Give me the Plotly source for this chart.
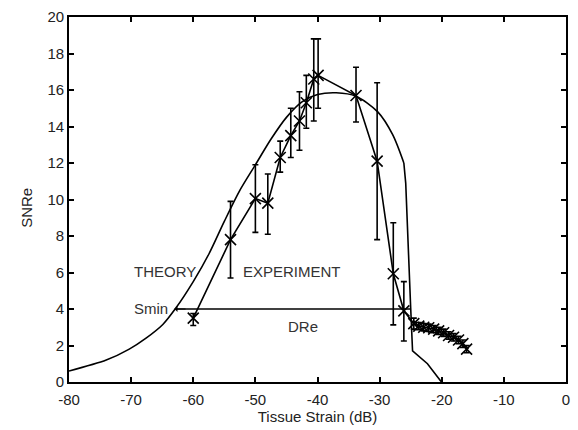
import plotly.graph_objects as go

# Theory curve
theory_x = [-80, -74, -70.3, -67.6, -64.9, -62.8, -60, -57.5, -55, -52.5, -50,
            -47.5, -45, -42.5, -40, -37, -33.8, -30.3, -27.9, -26.1, -25.8, -25.0,
            -24.7, -22.3, -20.05]
theory_y = [0.6, 1.2, 1.8, 2.4, 3.15, 4.05, 5.5, 7.0, 8.8, 10.5, 11.9,
            13.3, 14.5, 15.35, 15.75, 15.85, 15.66, 14.8, 13.55, 12.0, 10.9, 4.05,
            1.7, 1.0, 0.0]
smooth_end = 19  # index where the smooth part of the theory curve ends

# Experiment data with error bars
exp_x = [-60, -54, -50, -48, -46, -44.3, -42.9, -41.8, -40.6, -39.9, -33.8, -30.4,
         -27.8, -26.1, -24.5, -23.7, -22.9, -22.1, -21.3, -20.5, -19.7, -18.9,
         -18.1, -17.3, -16.6, -16.0]
exp_y = [3.5, 7.8, 10.05, 9.8, 12.3, 13.5, 14.3, 15.3, 16.6, 16.8, 15.7, 12.1,
         5.93, 3.9, 3.2, 3.06, 3.0, 2.97, 2.9, 2.8, 2.7, 2.55, 2.45, 2.3, 2.1, 1.8]
err_plus = [0.25, 2.1, 1.85, 1.6, 0.9, 1.5, 1.6, 1.5, 2.2, 2.0, 1.55, 4.3,
            2.8, 1.6, 0.3, 0.2, 0.2, 0.2, 0.2, 0.2, 0.2, 0.2, 0.2, 0.2, 0.2, 0.2]
err_minus = [0.4, 2.1, 1.85, 1.7, 0.8, 1.2, 1.6, 1.4, 2.3, 1.8, 1.45, 4.3,
             2.8, 1.65, 0.3, 0.2, 0.2, 0.2, 0.2, 0.2, 0.2, 0.2, 0.2, 0.2, 0.2, 0.2]

# Dynamic range line
dre_x = [-63, -25]
smin_level = 4

x_ticks = [-80, -70, -60, -50, -40, -30, -20, -10, 0]
x_ticktext = ["-80", "-70", "-60", "-50", "-40", "-30", "-20", "-10", "0"]
y_ticks = [0, 2, 4, 6, 8, 10, 12, 14, 16, 18, 20]

labels = [
    ("THEORY", -64.5, 6.07),
    ("EXPERIMENT", -44.1, 6.07),
    ("Smin", -66.8, 4.05),
    ("DRe", -42.3, 3.03),
]

font = "Liberation Sans, Arial, sans-serif"
FS = 15

fig = go.Figure()
fig.add_trace(go.Scatter(x=theory_x[:smooth_end + 1], y=theory_y[:smooth_end + 1],
                         mode="lines", line=dict(color="black", width=1.6,
                                                 shape="spline", smoothing=0.8),
                         showlegend=False))
fig.add_trace(go.Scatter(x=theory_x[smooth_end:], y=theory_y[smooth_end:],
                         mode="lines", line=dict(color="black", width=1.6),
                         showlegend=False))
fig.add_trace(go.Scatter(
    x=exp_x, y=exp_y, mode="lines+markers",
    line=dict(color="black", width=1.6),
    marker=dict(symbol="x-thin-open", size=11, color="black",
                line=dict(color="black", width=1.6)),
    error_y=dict(type="data", symmetric=False, array=err_plus, arrayminus=err_minus,
                 color="black", thickness=1.6, width=3),
    showlegend=False))
fig.add_trace(go.Scatter(x=dre_x, y=[smin_level, smin_level], mode="lines",
                         line=dict(color="black", width=1.4), showlegend=False))

fig.add_annotation(x=dre_x[0], y=smin_level, ax=dre_x[0] + 2, ay=smin_level,
                   xref="x", yref="y", axref="x", ayref="y", text="",
                   showarrow=True, arrowhead=1, arrowsize=0.8, arrowwidth=1.2,
                   arrowcolor="black")

for txt, lx, ly in labels:
    fig.add_annotation(x=lx, y=ly, text=txt, showarrow=False,
                       font=dict(family=font, size=FS, color="#333333"))

# y-axis title placed as rotated text
fig.add_annotation(x=-0.107, y=0.478, xref="paper", yref="paper", text="SNRe",
                   textangle=-90, showarrow=False,
                   font=dict(family=font, size=FS, color="#222222"))

axis_common = dict(showline=True, linecolor="black", linewidth=1.6, mirror="ticks",
                   ticks="inside", ticklen=5, tickwidth=1.6, tickcolor="black",
                   showgrid=False, zeroline=False,
                   tickfont=dict(family=font, size=FS, color="#222222"))

fig.update_layout(
    width=578, height=430,
    margin=dict(l=69, r=8, t=10, b=48),
    plot_bgcolor="white", paper_bgcolor="white",
    xaxis=dict(range=[-80, 0], tickvals=x_ticks, ticktext=x_ticktext,
               ticklabelstandoff=3,
               title=dict(text="Tissue Strain (dB)", standoff=2,
                          font=dict(family=font, size=FS, color="#222222")),
               **axis_common),
    yaxis=dict(range=[0, 20], tickvals=y_ticks, **axis_common),
)

fig.write_html("out.html")
